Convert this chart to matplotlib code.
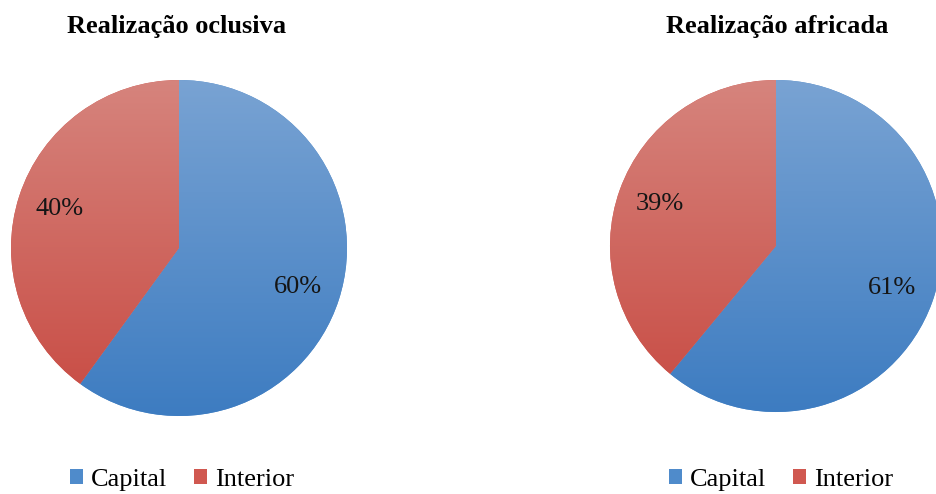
import numpy as np
import matplotlib
matplotlib.use("Agg")
import matplotlib.pyplot as plt
from matplotlib.colors import LinearSegmentedColormap

plt.rcParams["font.family"] = ["Liberation Serif", "DejaVu Serif"]

# Share of each realisation by region (percent)
regions = ["Capital", "Interior"]
oclusiva = [60, 40]
africada = [61, 39]
titles = ["Realização oclusiva", "Realização africada"]

# top / bottom shades of the vertical gradient used in each slice
blue_shade = ("#79A3D3", "#3D7CC1")
red_shade = ("#D6847D", "#C84A42")
flat_colors = ["#4F8BCB", "#D05850"]

W, H = 936, 494
fig = plt.figure(figsize=(W / 100, H / 100), dpi=100)


def add_pie(cx, cy, r, values, title, title_cx, legend_cx):
    # axes placed in pixels so that radius 1 == r px
    ax = fig.add_axes([(cx - r) / W, (H - cy - r) / H, 2 * r / W, 2 * r / H])
    wedges, _, autotexts = ax.pie(
        values, colors=flat_colors, startangle=90, counterclock=False,
        autopct="%.0f%%", pctdistance=0.745, radius=1,
        wedgeprops=dict(linewidth=0),
        textprops=dict(fontsize=19, color="#151515"),
    )
    grad = np.linspace(0, 1, 256)[:, None]
    for w, (top, bottom) in zip(wedges, [blue_shade, red_shade]):
        cmap = LinearSegmentedColormap.from_list("shade", [top, bottom])
        im = ax.imshow(grad, cmap=cmap, extent=(-1, 1, -1, 1), origin="upper",
                       aspect="auto", zorder=1.5)
        im.set_clip_path(w)
    for t in autotexts:
        t.set_zorder(4)
    ax.set_xlim(-1, 1)
    ax.set_ylim(-1, 1)
    ax.set_aspect("equal")
    ax.axis("off")

    fig.text(title_cx / W, 1 - 27 / H, title, ha="center", va="center",
             fontsize=19, fontweight="bold")
    fig.legend(wedges, regions, loc="center", ncol=2, frameon=False,
               bbox_to_anchor=(legend_cx / W, 1 - 480 / H),
               fontsize=19, handlelength=0.5, handleheight=0.5,
               handletextpad=0.3, columnspacing=1.0, borderpad=0)
    return ax


add_pie(179, 248, 168, oclusiva, titles[0], 177, 182)
add_pie(776, 246, 166, africada, titles[1], 777, 781)

fig.savefig("out.png", dpi=100, facecolor="white")
